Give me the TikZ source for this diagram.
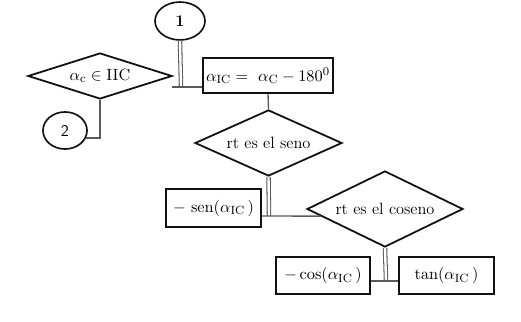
\documentclass[tikz,border=0pt]{standalone}
\usepackage{amsmath,amssymb}
\usepackage{tikz}
\usetikzlibrary{shapes.geometric,calc}
\definecolor{inkB}{HTML}{111111}
\definecolor{greyline}{HTML}{5A5A5A}

\begin{document}
\begin{tikzpicture}[x=0.672pt,y=-0.672pt,font=\fontsize{11}{13}\selectfont,
    caja/.style={draw=inkB,line width=1.2pt,rectangle,inner sep=0pt},
    rombo/.style={draw=inkB,line width=1.2pt,diamond,aspect=2.5,inner sep=0pt},
    conector/.style={draw=inkB,line width=1.1pt,ellipse,inner sep=0pt},
    linea/.style={greyline,line width=0.9pt},
    doble/.style={greyline,line width=0.7pt,double=white,double distance=1.6pt}]
  \useasboundingbox (0,0) rectangle (521,322);
  % conectores de pagina
  \node[conector,minimum width=33.6pt,minimum height=25.5pt] (c1) at (180,21) {\textbf{1}};
  \node[conector,minimum width=29.6pt,minimum height=24.9pt] (c2) at (65,130.5) {\textsf{2}};
  % decisiones
  \node[rombo,minimum width=96.8pt,minimum height=30.9pt] (d1) at (100,76)
        {$\alpha_{\mathrm{c}} \in \mathrm{IIC}$};
  \node[rombo,minimum width=98.8pt,minimum height=44.4pt] (d2) at (268.5,143) {rt es el seno};
  \node[rombo,minimum width=104.8pt,minimum height=51.1pt] (d3) at (385,209) {rt es el coseno};
  % procesos
  \node[caja,minimum width=87.4pt,minimum height=23.5pt] (b1) at (268,75.5)
        {$\alpha_{\mathrm{IC}} = \ \alpha_{\mathrm{C}} - 180^{0}$};
  \node[caja,minimum width=63.8pt,minimum height=25.5pt] (bsen) at (213.5,208)
        {$-\ \mathrm{sen}(\alpha_{\mathrm{IC}}\,)$};
  \node[caja,minimum width=63.2pt,minimum height=24.9pt] (bcos) at (323,275.5)
        {$-\cos(\alpha_{\mathrm{IC}}\,)$};
  \node[caja,minimum width=63.8pt,minimum height=24.9pt] (btan) at (446.5,275.5)
        {$\tan(\alpha_{\mathrm{IC}}\,)$};
  % uniones
  \coordinate (j1) at (181,87);
  \coordinate (j1a) at (172,87);
  \coordinate (j2) at (269,216);
  \coordinate (j2b) at ($(d3.west)!0.184!(d3.south)$);
  \coordinate (j3) at (386,281);
  % lineas
  \draw[doble] (c1.south) -- (j1);
  \draw[linea] (j1a) -- (j1a -| b1.west);
  \draw[linea] (d1.south) |- (c2.-20);
  \draw[linea] (b1.south) -- (d2.north);
  \draw[doble] (d2.south) -- (j2);
  \draw[linea] (bsen.east |- j2) -- (j2b);
  \draw[doble] (d3.south) -- (j3);
  \draw[linea] (bcos.east |- j3) -- (btan.west |- j3);
\end{tikzpicture}
\end{document}
